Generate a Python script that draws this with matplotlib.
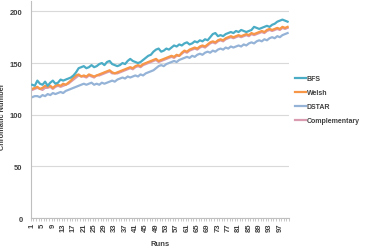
import matplotlib
matplotlib.use("Agg")
import matplotlib.pyplot as plt
import numpy as np

plt.rcParams['font.family'] = ['Liberation Sans', 'DejaVu Sans']

runs = list(range(1, 101))

bfs = [129, 128, 133, 130, 129, 132, 128, 131, 133, 130,
       131, 134, 133, 134, 135, 136, 138, 141, 145, 146,
       147, 145, 146, 148, 146, 147, 149, 150, 148, 151,
       152, 149, 148, 147, 148, 150, 149, 152, 154, 152,
       151, 150, 151, 153, 155, 157, 158, 161, 163, 164,
       161, 162, 164, 163, 165, 167, 166, 168, 167, 169,
       170, 168, 169, 171, 170, 172, 171, 173, 172, 175,
       178, 179, 176, 177, 176, 178, 179, 180, 179, 181,
       180, 182, 181, 180, 181, 182, 185, 184, 183, 184,
       185, 186, 185, 187, 188, 190, 191, 192, 191, 190]

welsh = [125, 126, 127, 125, 126, 128, 127, 128, 126, 128,
         129, 128, 130, 129, 131, 133, 136, 138, 139, 137,
         138, 137, 139, 138, 137, 138, 139, 140, 141, 142,
         143, 141, 140, 141, 142, 143, 144, 145, 146, 145,
         147, 148, 147, 149, 150, 151, 152, 153, 154, 152,
         153, 154, 155, 156, 157, 156, 158, 157, 160, 162,
         161, 163, 164, 165, 164, 166, 167, 166, 168, 170,
         171, 170, 172, 173, 172, 174, 175, 176, 175, 176,
         177, 176, 177, 178, 177, 179, 178, 179, 180, 181,
         180, 182, 183, 182, 183, 184, 183, 185, 184, 185]

dstar = [117, 118, 118, 117, 119, 118, 120, 119, 121, 120,
         121, 122, 121, 123, 124, 125, 126, 127, 128, 129,
         130, 129, 130, 131, 129, 130, 129, 131, 130, 131,
         132, 133, 132, 134, 135, 136, 135, 137, 136, 137,
         138, 137, 139, 138, 140, 141, 142, 143, 145, 147,
         148, 147, 149, 150, 151, 152, 151, 153, 154, 155,
         156, 155, 157, 156, 158, 159, 158, 160, 161, 160,
         162, 161, 163, 164, 163, 165, 164, 166, 165, 166,
         167, 166, 168, 167, 169, 170, 169, 171, 172, 171,
         173, 172, 174, 175, 174, 176, 175, 177, 178, 179]

complementary = [124, 125, 126, 125, 124, 126, 126, 127, 125, 127,
                 128, 127, 128, 129, 130, 132, 134, 136, 138, 137,
                 137, 136, 138, 137, 136, 138, 138, 139, 140, 141,
                 142, 140, 140, 140, 141, 142, 143, 144, 145, 144,
                 146, 147, 146, 148, 149, 150, 151, 152, 153, 151,
                 152, 153, 154, 155, 156, 155, 157, 157, 159, 161,
                 160, 162, 163, 164, 163, 165, 166, 165, 167, 169,
                 170, 169, 171, 172, 171, 173, 174, 175, 174, 175,
                 176, 175, 176, 177, 176, 178, 177, 178, 179, 180,
                 179, 181, 182, 181, 182, 183, 182, 184, 183, 184]

series = [("BFS", bfs, "#4BACC6", 3),
          ("Welsh", welsh, "#F79646", 2),
          ("DSTAR", dstar, "#95B3D7", 2),
          ("Complementary", complementary, "#D99BB0", 1)]

fig = plt.figure(figsize=(3.68, 2.51), dpi=100)
ax = fig.add_axes([0.084, 0.127, 0.701, 0.865])

for name, vals, col, z in series:
    ax.plot(runs, vals, color=col, lw=1.6, label=name, zorder=z)

txt = "#404040"
ax.set_xlim(0.5, 100.5)
ax.set_ylim(0, 210)
ax.set_yticks([0, 50, 100, 150, 200])
ax.yaxis.grid(True, color="#D9D9D9", lw=0.8)
ax.set_axisbelow(True)
ax.set_xticks(runs[::4])
ax.set_xticklabels([str(r) for r in runs[::4]], rotation=90)
ax.set_xticks(np.arange(0.5, 101, 1), minor=True)
ax.tick_params(axis="x", which="major", length=0, pad=3, labelsize=5.5, colors=txt)
ax.tick_params(axis="x", which="minor", length=2, color="#BFBFBF", width=0.6)
ax.tick_params(axis="y", length=0, pad=6, labelsize=5.5, colors=txt)
for lab in ax.get_xticklabels() + ax.get_yticklabels():
    lab.set_fontweight("bold")

for s in ["top", "right"]:
    ax.spines[s].set_visible(False)
for s in ["left", "bottom"]:
    ax.spines[s].set_color("#BFBFBF")
    ax.spines[s].set_linewidth(0.8)

ax.set_xlabel("Runs", fontsize=5.5, fontweight="bold", color=txt)
ax.xaxis.set_label_coords(0.5, -0.1)
ax.set_ylabel("Chromatic Number", fontsize=5.3, fontweight="bold", color=txt)
ax.yaxis.set_label_coords(-0.095, 0.47)

leg = ax.legend(loc="center left", bbox_to_anchor=(1.0, 0.545), frameon=False,
                fontsize=5.0, handlelength=1.5, handletextpad=0.2, labelspacing=1.0)
for t in leg.get_texts():
    t.set_fontweight("bold")
    t.set_color(txt)

fig.savefig("out.png", dpi=100)
